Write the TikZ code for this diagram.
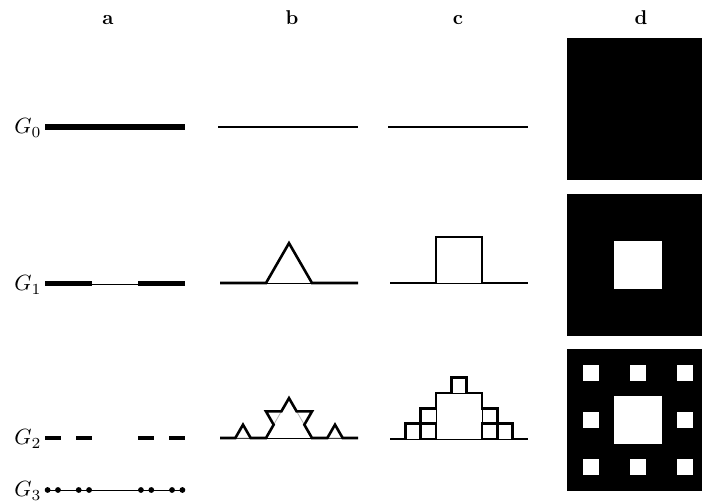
\documentclass[tikz,border=0pt]{standalone}
\usepackage{amsmath}
\usetikzlibrary{positioning}
\tikzset{
  colhead/.style={font=\bfseries, scale=2, anchor=base},
  genlabel/.style={scale=2.2, anchor=base east, inner sep=0pt},
  thinline/.style={line width=0.8pt},
  bar/.style={line width=#1, line cap=butt},
  curve/.style={line width=2.6pt, line join=miter},
}
\begin{document}
\begin{tikzpicture}[x=1pt,y=1pt]
\useasboundingbox (0,0) rectangle (702,502);
\clip (0,0) rectangle (702,502);
% column heads
\foreach \n/\x in {a/108,b/292,c/458,d/641}
  \node[colhead] (head\n) at (\x,477) {\n};
% generation labels
\foreach \g/\y in {0/375,1/218,2/64,3/12}
  \node[genlabel] (gen\g) at (42,\y-7) {$G_{\g}$};
% a: Cantor set
\draw[bar=5.5pt] (45,375) -- (185,375);
\draw[thinline] (45,218) -- (185,218);
\foreach \s in {0,2} \draw[bar=5pt] ({45+\s*46.667},218) -- ++(46.667,0);
\foreach \s in {0,2,6,8} \draw[bar=4pt] ({45+\s*15.556},64) -- ++(15.556,0);
\draw[thinline] (45,12) -- (185,12);
\foreach \s in {0,2,6,8,18,20,24,26} \fill ({47.6+\s*5.185},12) circle (2.9);
% b: Koch curve
\draw[line width=2.2pt] (218,375) -- (358,375);
\draw[thinline] (266,219) -- (312,219);
\draw[curve] (220,219) -- ++(0:46) -- ++(60:46) -- ++(-60:46) -- ++(0:46);
\draw[thinline] (220,64) -- (358,64);
\draw[thinline, gray!60] (220,64) -- ++(0:46) -- ++(60:46) -- ++(-60:46) -- ++(0:46);
\draw[curve] (220,64) \foreach \a in {0,60,-60,0,60,120,0,60,-60,0,-120,-60,0,60,-60,0} { -- ++(\a:15.333) };
% c: quadratic Koch curve
\draw[line width=2.2pt] (388,375) -- (528,375);
\draw[thinline] (436,219) -- (482,219);
\draw[curve] (390,219) \foreach \a in {0,90,0,-90,0} { -- ++(\a:46) };
\draw[thinline] (390,63) -- (528,63);
\draw[thinline] (390,63) \foreach \a in {0,90,0,-90,0} { -- ++(\a:46) };
\draw[curve] (390,63) \foreach \a in {0,90,0,-90,0, 90,180,90,0,90, 0,90,0,-90,0, -90,0,-90,-180,-90, 0,90,0,-90,0} { -- ++(\a:15.333) };
% d: Sierpinski carpet
\foreach \y in {322,166,11} \fill (567,\y) rectangle ++(142,142);
\fill[white] (614.33,213.33) rectangle ++(47.33,47.33);
\fill[white] (614.33,58.33) rectangle ++(47.33,47.33);
\foreach \i/\j in {0/0,1/0,2/0,0/1,2/1,0/2,1/2,2/2}
  \fill[white] ({567+\i*47.33+15.78},{11+\j*47.33+15.78}) rectangle ++(15.78,15.78);
\end{tikzpicture}
\end{document}
